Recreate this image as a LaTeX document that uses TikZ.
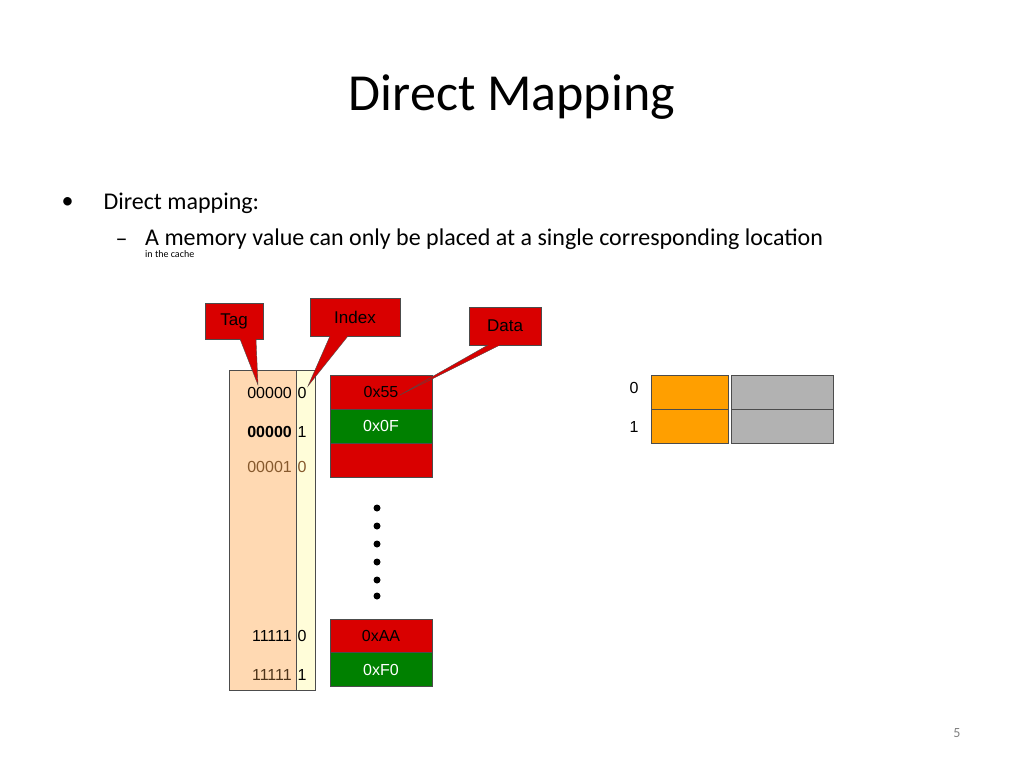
\documentclass[tikz,border=0pt]{standalone}
\usepackage{fontspec}
\setmainfont{Carlito}
\newfontfamily\arial{Liberation Sans}
\begin{document}
\begin{tikzpicture}[x=1pt,y=-1pt,
  cell/.style={draw=black!70,line width=0.8pt,minimum width=102pt,minimum height=34pt,inner sep=0pt,font=\arial\fontsize{16}{18}\selectfont},
  red/.style={cell,fill=red!85!black},
  grn/.style={cell,fill=green!50!black,text=white},
  call/.style={draw=black!70,fill=red!85!black,inner sep=0pt,font=\arial\fontsize{17}{20}\selectfont},
  lbl/.style={font=\arial\fontsize{16}{18}\selectfont,inner sep=0pt},
  dot/.style={circle,fill=black,inner sep=0pt,minimum size=7pt}]
\useasboundingbox (0,0) rectangle (1024,768);
\node at (512,97) {\fontsize{52}{60}\selectfont Direct Mapping};
\node[anchor=west] at (58,203) {\fontsize{24}{28}\selectfont •};
\node[anchor=west] at (100,203) {\fontsize{24}{28}\selectfont Direct mapping:};
\node[anchor=west] at (112,243) {\fontsize{24}{28}\selectfont –};
\node[anchor=north west,align=left,inner sep=0pt] at (145,229) {\fontsize{24}{34}\selectfont A memory value can only be placed at a single corresponding location\\in the cache};
\node[text=gray] at (957,733) {\fontsize{14}{16}\selectfont 5};
% columns
\node[draw=black!70,fill=orange!30,minimum width=67pt,minimum height=320pt,inner sep=0pt] (tagcol) at (262.5,530) {};
\node[draw=black!70,fill=yellow!15,minimum width=19pt,minimum height=320pt,inner sep=0pt] (idxcol) at (305.5,530) {};
\node[lbl,anchor=east] (t0) at (292,393) {00000};
\node[lbl,anchor=east] at (292,432) {\textbf{00000}};
\node[lbl,anchor=east,text=brown!70!black] at (292,467) {00001};
\node[lbl,anchor=east] at (292,636) {11111};
\node[lbl,anchor=east,text=brown!40!black] at (292,675) {11111};
\node[lbl] (i0) at (302,393) {0};
\node[lbl] at (302,432) {1};
\node[lbl,text=brown!70!black] at (302,467) {0};
\node[lbl] at (302,636) {0};
\node[lbl] at (302,675) {1};
% data
\node[red] (d0) at (381,392) {0x55};
\node[grn] (d1) at (381,426) {0x0F};
\node[red] (d2) at (381,460) {};
\node[red] (d3) at (381,636) {0xAA};
\node[grn] (d4) at (381,669.5) {0xF0};
\foreach \y [count=\i] in {508,526,544,562,580,596} \node[dot] (p\i) at (377,\y) {};
% cache
\node[cell,fill=orange!75!yellow,minimum width=77pt] (c0) at (689.5,392) {};
\node[cell,fill=orange!75!yellow,minimum width=77pt] (c1) at (689.5,426) {};
\node[cell,fill=black!30,minimum width=102pt] (g0) at (782,392) {};
\node[cell,fill=black!30,minimum width=102pt] (g1) at (782,426) {};
\node[lbl] at (634,388) {0};
\node[lbl] at (634,427) {1};
% callouts
\node[call,minimum width=58pt,minimum height=36pt] (tag) at (234,321) {Tag};
\node[call,minimum width=90pt,minimum height=38pt] (idx) at (355,317) {Index};
\node[call,minimum width=72pt,minimum height=38pt] (dat) at (505,326) {Data};
\coordinate (tt) at (258,385);
\coordinate (it) at (308,386);
\coordinate (dt) at (400,395);
\fill[red!85!black,draw=black!70] (240,339) -- (tt) -- (256,339);
\fill[red!85!black,draw=black!70] (330,336) -- (it) -- (348,336);
\fill[red!85!black,draw=black!70] (488,345) -- (dt) -- (500,345);
\fill[red!85!black] (241,337) rectangle (255,340);
\fill[red!85!black] (331,334) rectangle (347,337);
\fill[red!85!black] (489,343) rectangle (499,346);
\end{tikzpicture}
\end{document}
